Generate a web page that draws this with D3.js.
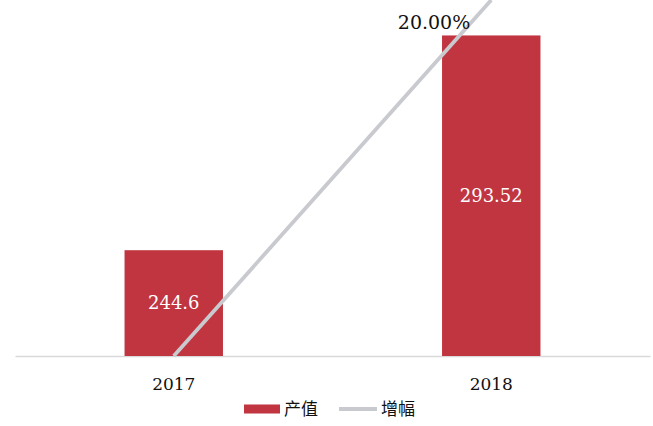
<!DOCTYPE html>
<html><head><meta charset="utf-8">
<script src="https://cdn.jsdelivr.net/npm/d3@7"></script>
<style>html,body{margin:0;padding:0;background:#fff;}svg{display:block;}</style>
</head><body>
<svg id="c" width="653" height="426"></svg>
<script>
const categories = ["2017", "2018"];
const outputValues = [244.6, 293.52];
const growthValues = [0, 0.20];
const growthLabels = ["", "20.00%"];
const legendLabels = ["产值", "增幅"];

(function () {
const svg = d3.select("#c");
const W = 653, H = 426;
const mLeft = 15, mRight = 650, mTop = 7, mBottom = 356;

const x = d3.scaleBand().domain(categories).range([mLeft, mRight]).padding(0);
const y = d3.scaleLinear().domain([220.5, 300]).range([mBottom, mTop]);
const y2 = d3.scaleLinear().domain([0, 0.2]).range([mBottom, 0]);
const barW = x.bandwidth() * 0.31;
const serif = "'DejaVu Serif', serif";
const cjk = "'Noto Sans CJK SC', sans-serif";
const red = "#c0353f", gray = "#c9cacf";

svg.append("defs").append("clipPath").attr("id", "clip")
  .append("rect").attr("x", 0).attr("y", 0).attr("width", W).attr("height", mBottom + 2);

// axis
const xAxis = svg.append("g").attr("transform", `translate(0,${mBottom})`)
  .call(d3.axisBottom(x).tickSize(0).tickPadding(22));
xAxis.select(".domain").attr("stroke", "#d9d9d9").attr("stroke-width", 1.5);
xAxis.selectAll("text").attr("font-family", serif).attr("font-size", 17).attr("fill", "#111");

// bars
svg.append("g").selectAll("rect").data(categories).join("rect")
  .attr("x", d => x(d) + x.bandwidth() / 2 - barW / 2)
  .attr("y", (d, i) => y(outputValues[i]))
  .attr("width", barW)
  .attr("height", (d, i) => mBottom - y(outputValues[i]))
  .attr("fill", red);

svg.append("g").selectAll("text").data(categories).join("text")
  .attr("x", d => x(d) + x.bandwidth() / 2)
  .attr("y", (d, i) => (y(outputValues[i]) + mBottom) / 2)
  .attr("dy", "0.35em")
  .attr("text-anchor", "middle")
  .attr("font-family", serif).attr("font-size", 18).attr("fill", "#fff")
  .text((d, i) => outputValues[i]);

// line
const line = d3.line().x((d, i) => x(categories[i]) + x.bandwidth() / 2).y(d => y2(d));
svg.append("path").datum(growthValues)
  .attr("d", line).attr("fill", "none").attr("stroke", gray).attr("stroke-width", 3.8)
  .attr("clip-path", "url(#clip)");

svg.append("g").selectAll("text").data(growthValues).join("text")
  .attr("x", (d, i) => x(categories[i]) + x.bandwidth() / 2 - 21)
  .attr("y", d => y2(d) + 22)
  .attr("dy", "0.35em")
  .attr("text-anchor", "end")
  .attr("font-family", serif).attr("font-size", 19).attr("fill", "#111")
  .text((d, i) => growthLabels[i]);

// legend
const lg = svg.append("g").attr("transform", "translate(244,409)");
lg.append("rect").attr("x", 0).attr("y", -4.5).attr("width", 36).attr("height", 9).attr("fill", red);
lg.append("text").attr("x", 40).attr("y", 0).attr("dy", "0.35em")
  .attr("font-family", cjk).attr("font-size", 17).attr("fill", "#111").text(legendLabels[0]);
lg.append("line").attr("x1", 95).attr("x2", 133).attr("y1", 0).attr("y2", 0)
  .attr("stroke", gray).attr("stroke-width", 3.8);
lg.append("text").attr("x", 137).attr("y", 0).attr("dy", "0.35em")
  .attr("font-family", cjk).attr("font-size", 17).attr("fill", "#111").text(legendLabels[1]);
})();
</script>
</body></html>
